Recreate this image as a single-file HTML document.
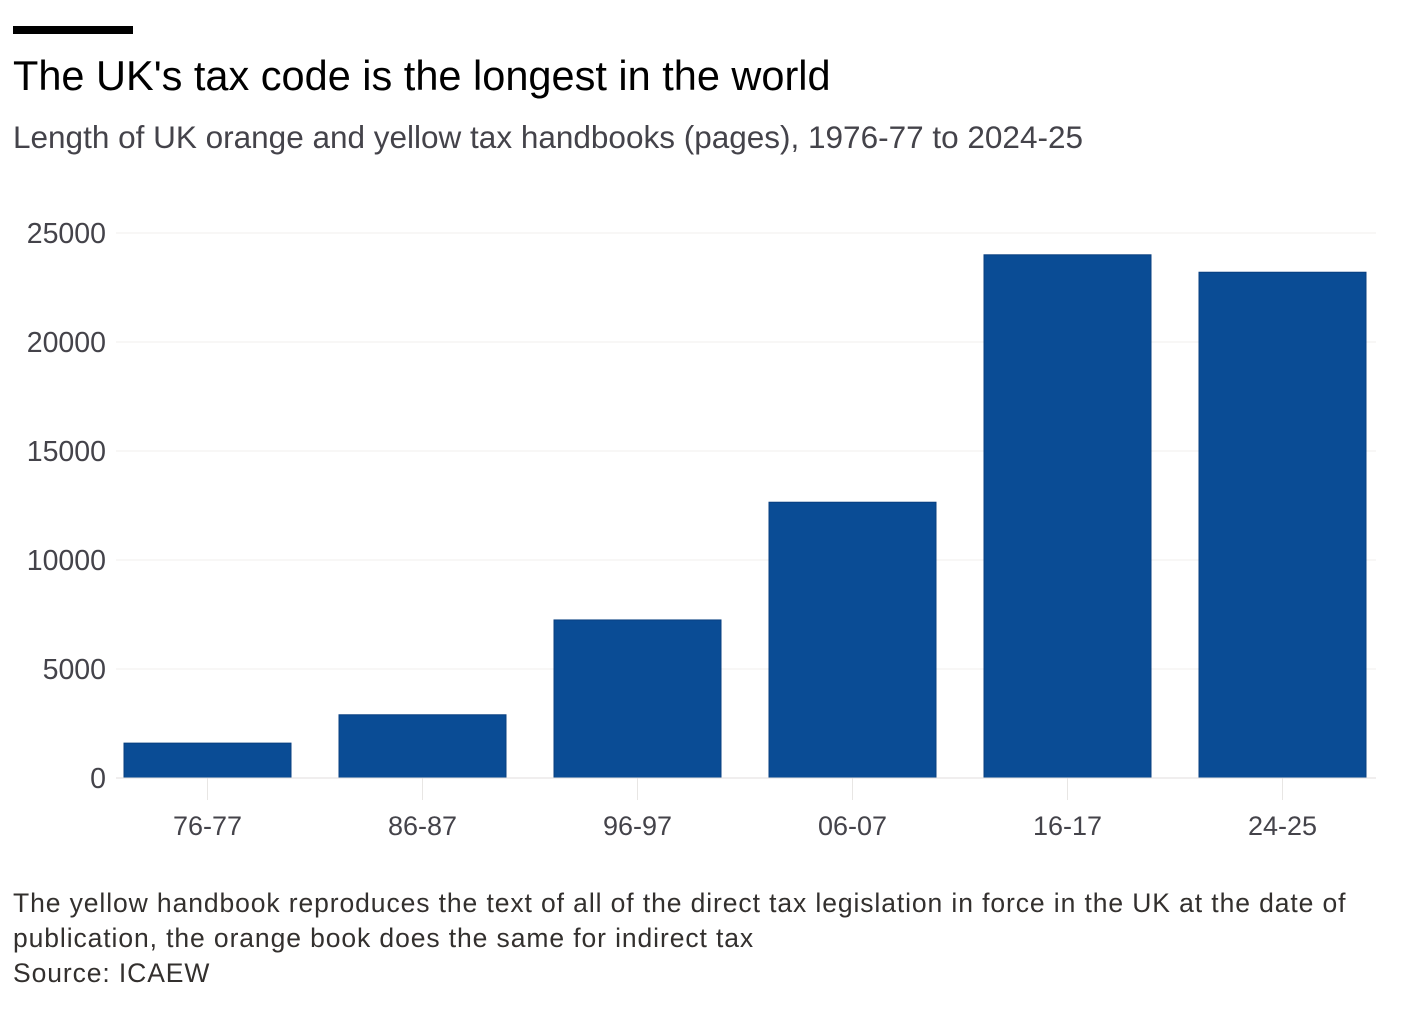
<!DOCTYPE html>
<html><head><meta charset="utf-8"><style>
body{margin:0;width:1408px;height:1026px;background:#fff;font-family:"Liberation Sans",sans-serif;overflow:hidden;position:relative}
.t{position:absolute;white-space:nowrap}
</style></head><body>
<div style="position:absolute;left:13px;top:26px;width:120px;height:8px;background:#000"></div>
<div class="t" style="left:13px;top:52px;font-size:41.5px;color:#000">The UK's tax code is the longest in the world</div>
<div class="t" style="left:13px;top:119px;font-size:31.5px;color:#44434a">Length of UK orange and yellow tax handbooks (pages), 1976-77 to 2024-25</div>
<svg id="chart" width="1408" height="870" style="position:absolute;left:0;top:0"></svg>
<div class="t" style="left:13px;top:886px;font-size:26.5px;letter-spacing:0.9px;line-height:35px;color:#33302e;white-space:normal;width:1380px">The yellow handbook reproduces the text of all of the direct tax legislation in force in the UK at the date of publication, the orange book does the same for indirect tax<br>Source: ICAEW</div>
<script>
const categories=["76-77","86-87","96-97","06-07","16-17","24-25"];
const values=[1600,2900,7250,12650,24000,23200];
const yTicks=[0,5000,10000,15000,20000,25000];
const svg=document.getElementById('chart');
const NS="http://www.w3.org/2000/svg";
const y0=778,y1=233,yMax=25000;
const y=v=>y0-(v/yMax)*(y0-y1);
const step=215,x0=100,bw=167;
const xc=i=>x0+step*i+step/2;
function mk(t,a){const e=document.createElementNS(NS,t);for(const k in a)e.setAttribute(k,a[k]);svg.appendChild(e);return e;}
yTicks.forEach(v=>{
 if(v>0){const g=mk('line',{x1:116,x2:1376,y1:y(v),y2:y(v),stroke:'#f2efed','stroke-width':1});
 
 }
 const t=mk('text',{x:106,y:y(v)+10,'text-anchor':'end','font-size':28.5,fill:'#44434a','font-family':'Liberation Sans, sans-serif'});
 t.textContent=v;
 
 
});
categories.forEach((c,i)=>{
 const r=mk('rect',{x:xc(i)-bw/2,y:y(values[i]),width:bw,height:y0-y(values[i]),fill:'#0a4c95',stroke:'#083f80','stroke-width':1});
 
 
 const tk=mk('line',{x1:xc(i),x2:xc(i),y1:y0,y2:y0+22,stroke:'#e8e6e4'});
 
 
 const t=mk('text',{x:xc(i),y:835,'text-anchor':'middle','font-size':27,fill:'#44434a','font-family':'Liberation Sans, sans-serif'});
 t.textContent=c;
 
 
});
const base=mk('line',{x1:116,x2:1376,y1:y0,y2:y0,stroke:'#e0dedc','stroke-width':1});


</script>
</body></html>
